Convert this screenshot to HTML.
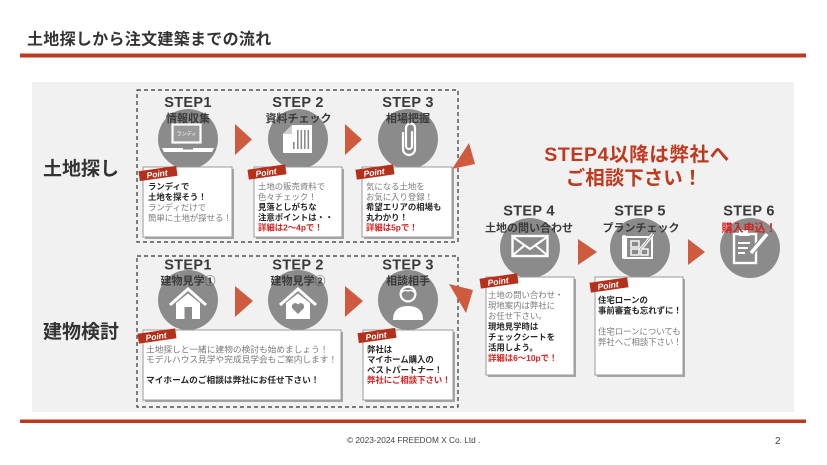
<!DOCTYPE html>
<html><head><meta charset="utf-8"><style>
html,body{margin:0;padding:0;background:#fff;}
svg{display:block;}
text{font-family:"Liberation Sans","Noto Sans CJK JP",sans-serif;}
.jp{font-family:"Noto Sans CJK JP","Liberation Sans",sans-serif;}
.g{fill:#7a7a7a;}
.b{fill:#262626;font-weight:bold;}
.r{fill:#d42020;font-weight:bold;}
.st{font-weight:bold;fill:#3a3a3a;font-size:14.5px;letter-spacing:0.3px;}
.sub{font-weight:bold;fill:#3a3a3a;font-size:11px;}
</style></head><body>
<svg width="827" height="465" viewBox="0 0 827 465" xmlns="http://www.w3.org/2000/svg">
<rect width="827" height="465" fill="#fff"/>
<!-- title -->
<text x="27" y="44.5" font-size="16" font-weight="bold" fill="#333" letter-spacing="0.3">土地探しから注文建築までの流れ</text>
<rect x="20" y="53.5" width="786" height="4" fill="#bd3a1e"/>
<!-- panel -->
<rect x="32" y="82" width="762" height="330" fill="#f1f1f1"/>
<rect x="20" y="419.5" width="786" height="3.5" fill="#bd3a1e"/>
<text x="347" y="443" font-size="8.3" fill="#444">© 2023-2024 FREEDOM X Co. Ltd .</text>
<text x="775" y="444" font-size="10" fill="#444">2</text>

<!-- left labels -->
<text x="43" y="175" font-size="19" font-weight="bold" fill="#333">土地探し</text>
<text x="43" y="338" font-size="19" font-weight="bold" fill="#333">建物検討</text>

<!-- dashed boxes -->
<rect x="137" y="90" width="321" height="152" fill="none" stroke="#333" stroke-width="1.2" stroke-dasharray="4,3"/>
<rect x="137" y="256" width="321" height="151" fill="none" stroke="#333" stroke-width="1.2" stroke-dasharray="4,3"/>

<!-- circles -->
<g fill="#8b8b8b">
<circle cx="188" cy="139" r="30"/><circle cx="298" cy="139" r="30"/><circle cx="408" cy="139" r="30"/>
<circle cx="530" cy="248" r="30"/><circle cx="640" cy="248" r="30"/><circle cx="750" cy="248" r="30"/>
<circle cx="188" cy="300" r="30"/><circle cx="298" cy="300" r="30"/><circle cx="408" cy="300" r="30"/>
</g>

<!-- triangles -->
<g fill="#cf5a3e">
<polygon points="235,124 252,139.5 235,155"/>
<polygon points="345,124 362,139.5 345,155"/>
<polygon points="235,286 253,301 235,317"/>
<polygon points="345,286 363,301 345,317"/>
<polygon points="578,239 597,252 578,265"/>
<polygon points="688,239 705,252 688,265"/>
<polygon points="469,143 452,169 475,164"/>
<polygon points="449,284 473,290 466,313"/>
</g>

<!-- icons -->
<!-- laptop -->
<rect x="172.5" y="124.5" width="28" height="18" fill="#9a9a9a" stroke="#fff" stroke-width="2.2"/>
<text x="186.5" y="135.5" font-size="5" fill="#fff" text-anchor="middle">ランディ</text>
<polygon points="162,148 214,148 212,152 164,152" fill="#fff"/>
<rect x="183" y="148" width="10" height="1.5" fill="#8b8b8b"/>
<!-- document -->
<polygon points="292,125 312,125 312,153 283,153 283,134" fill="#fff"/>
<polygon points="283,134 292,125 292,134" fill="#cfcfcf"/>
<g fill="#8b8b8b">
<rect x="297" y="130" width="1.6" height="19"/><rect x="300.5" y="130" width="1.6" height="19"/>
<rect x="304" y="130" width="1.6" height="19"/><rect x="307.5" y="130" width="1.6" height="19"/>
<rect x="293" y="142" width="1.6" height="7"/>
</g>
<!-- paperclip -->
<path d="M403 133 L403 149 A6 6 0 0 0 415 149 L415 128 A4.5 4.5 0 0 0 406 128 L406 146 A3 3 0 0 0 412 146 L412 132" fill="none" stroke="#fff" stroke-width="2.2" stroke-linecap="round"/>
<!-- envelope -->
<rect x="512.5" y="236" width="35" height="20" fill="none" stroke="#fff" stroke-width="2.4"/>
<polyline points="513,237 530,249 547,237" fill="none" stroke="#fff" stroke-width="2.2"/>
<line x1="513" y1="255" x2="525" y2="245" stroke="#fff" stroke-width="2"/>
<line x1="547" y1="255" x2="535" y2="245" stroke="#fff" stroke-width="2"/>
<!-- blueprint -->
<rect x="626" y="237" width="26" height="21" fill="none" stroke="#fff" stroke-width="2"/>
<rect x="622" y="235" width="4" height="24" rx="2" fill="#fff"/>
<g fill="none" stroke="#fff" stroke-width="1.4">
<rect x="631" y="241" width="8" height="6"/><rect x="631" y="249" width="8" height="6"/><rect x="641" y="249" width="7" height="6"/>
</g>
<line x1="640" y1="250" x2="653" y2="234" stroke="#fff" stroke-width="3.2"/>
<line x1="640" y1="250" x2="653" y2="234" stroke="#8b8b8b" stroke-width="0.8"/>
<!-- clipboard -->
<rect x="734" y="234" width="22" height="29" fill="none" stroke="#fff" stroke-width="2.4"/>
<rect x="739" y="230" width="11" height="6" fill="#fff"/>
<g stroke="#fff" stroke-width="2"><line x1="738" y1="243" x2="750" y2="243"/><line x1="738" y1="248" x2="748" y2="248"/><line x1="738" y1="253" x2="745" y2="253"/></g>
<line x1="751" y1="253" x2="767" y2="234" stroke="#8b8b8b" stroke-width="6"/>
<line x1="751" y1="253" x2="767" y2="234" stroke="#fff" stroke-width="3.6"/>
<!-- house 1 -->
<polyline points="170,305 188,289 206,305" fill="none" stroke="#fff" stroke-width="3"/>
<polygon points="176,303 188,293.5 200,303 200,319 176,319" fill="#fff"/>
<rect x="184.5" y="307" width="7.5" height="12" fill="#8b8b8b"/>
<!-- house 2 -->
<polyline points="280,305 298,289 316,305" fill="none" stroke="#fff" stroke-width="3"/>
<polygon points="286,303 298,293.5 310,303 310,319 286,319" fill="#fff"/>
<path d="M298 314 L292.5 308.5 A3 3 0 0 1 298 304.5 A3 3 0 0 1 303.5 308.5 Z" fill="#8b8b8b"/>
<!-- person -->
<path d="M393 320 Q393 306 408 306 Q423 306 423 320 Z" fill="#fff"/>
<circle cx="408" cy="294" r="8.5" fill="#fff"/>
<circle cx="408" cy="294" r="6.3" fill="#8b8b8b"/>
<path d="M401.5 293 Q404 289 408 291 Q412 289 414.5 293" fill="none" stroke="#fff" stroke-width="1.4"/>

<!-- STEP labels -->
<g text-anchor="middle">
<text class="st" x="188" y="107">STEP1</text>
<text class="st" x="298" y="107">STEP 2</text>
<text class="st" x="408" y="107">STEP 3</text>
<text class="sub" x="188" y="122">情報収集</text>
<text class="sub" x="298.5" y="122">資料チェック</text>
<text class="sub" x="408" y="122">相場把握</text>

<text class="st" x="529" y="215.5">STEP 4</text>
<text class="st" x="640" y="215.5">STEP 5</text>
<text class="st" x="749" y="215.5">STEP 6</text>
<text class="sub" x="529" y="231.5" font-size="11.5">土地の問い合わせ</text>
<text class="sub" x="641" y="231.5">プランチェック</text>
<text class="sub" x="749" y="231.5" fill="#d42020" style="fill:#d42020">購入申込！</text>

<text class="st" x="188" y="269.5">STEP1</text>
<text class="st" x="298" y="269.5">STEP 2</text>
<text class="st" x="408" y="269.5">STEP 3</text>
<text class="sub" x="188" y="284.5">建物見学①</text>
<text class="sub" x="298" y="284.5">建物見学②</text>
<text class="sub" x="408" y="284.5">相談相手</text>

<text x="637" y="161" font-size="19.5" font-weight="bold" fill="#c0391f" letter-spacing="0.6">STEP4以降は弊社へ</text>
<text x="634" y="184.5" font-size="19.5" font-weight="bold" fill="#c0391f">ご相談下さい！</text>
</g>

<!-- point boxes -->
<g>
<rect x="145" y="169" width="89" height="70" fill="#a5a5a5"/>
<rect x="143" y="167" width="89" height="70" fill="#fff" stroke="#9a9a9a" stroke-width="1"/>
<rect x="256" y="169" width="88" height="70" fill="#a5a5a5"/>
<rect x="254" y="167" width="88" height="70" fill="#fff" stroke="#9a9a9a" stroke-width="1"/>
<rect x="364" y="169" width="90" height="70" fill="#a5a5a5"/>
<rect x="362" y="167" width="90" height="70" fill="#fff" stroke="#9a9a9a" stroke-width="1"/>

<rect x="488" y="279" width="88" height="98" fill="#a5a5a5"/>
<rect x="486" y="277" width="88" height="98" fill="#fff" stroke="#9a9a9a" stroke-width="1"/>
<rect x="597" y="279" width="88" height="98" fill="#a5a5a5"/>
<rect x="595" y="277" width="88" height="98" fill="#fff" stroke="#9a9a9a" stroke-width="1"/>

<rect x="145" y="332" width="198" height="70" fill="#a5a5a5"/>
<rect x="143" y="330" width="198" height="70" fill="#fff" stroke="#9a9a9a" stroke-width="1"/>
<rect x="365" y="332" width="90" height="70" fill="#a5a5a5"/>
<rect x="363" y="330" width="90" height="70" fill="#fff" stroke="#9a9a9a" stroke-width="1"/>
</g>

<!-- Point tags -->
<g font-size="8.5" font-weight="bold" font-style="italic" fill="#fff" text-anchor="middle">
<g transform="translate(158,173.5) rotate(-8)"><rect x="-19" y="-5" width="38" height="10" fill="#b5301a"/><text x="-1" y="3.3">Point</text></g>
<g transform="translate(267,172) rotate(-8)"><rect x="-19" y="-5" width="38" height="10" fill="#b5301a"/><text x="-1" y="3.3">Point</text></g>
<g transform="translate(375,172) rotate(-8)"><rect x="-19" y="-5" width="38" height="10" fill="#b5301a"/><text x="-1" y="3.3">Point</text></g>
<g transform="translate(499,281) rotate(-8)"><rect x="-19" y="-5" width="38" height="10" fill="#b5301a"/><text x="-1" y="3.3">Point</text></g>
<g transform="translate(609,285) rotate(-8)"><rect x="-19" y="-5" width="38" height="10" fill="#b5301a"/><text x="-1" y="3.3">Point</text></g>
<g transform="translate(157,336) rotate(-8)"><rect x="-19" y="-5" width="38" height="10" fill="#b5301a"/><text x="-1" y="3.3">Point</text></g>
<g transform="translate(377,335.5) rotate(-8)"><rect x="-19" y="-5" width="38" height="10" fill="#b5301a"/><text x="-1" y="3.3">Point</text></g>
</g>

<!-- box texts -->
<g font-size="8.4">
<text x="148" y="189.5" class="b">ランディで</text>
<text x="148" y="200" class="b">土地を探そう！</text>
<text x="148" y="210.5" class="g">ランディだけで</text>
<text x="148" y="221" class="g">簡単に土地が探せる！</text>

<text x="258" y="189.5" class="g">土地の販売資料で</text>
<text x="258" y="199.8" class="g">色々チェック！</text>
<text x="258" y="210.1" class="b">見落としがちな</text>
<text x="258" y="220.4" class="b">注意ポイントは・・</text>
<text x="258" y="230.7" class="r">詳細は2〜4pで！</text>

<text x="366" y="189.5" class="g">気になる土地を</text>
<text x="366" y="199.8" class="g">お気に入り登録！</text>
<text x="366" y="210.1" class="b">希望エリアの相場も</text>
<text x="366" y="220.4" class="b">丸わかり！</text>
<text x="366" y="230.7" class="r">詳細は5pで！</text>

<text x="488" y="298" class="g">土地の問い合わせ・</text>
<text x="488" y="308.5" class="g">現地案内は弊社に</text>
<text x="488" y="319" class="g">お任せ下さい。</text>
<text x="488" y="329.5" class="b">現地見学時は</text>
<text x="488" y="340" class="b">チェックシートを</text>
<text x="488" y="350.5" class="b">活用しよう。</text>
<text x="488" y="361" class="r">詳細は6〜10pで！</text>

<text x="598" y="303" class="b">住宅ローンの</text>
<text x="598" y="313.5" class="b">事前審査も忘れずに！</text>
<text x="598" y="334.5" class="g">住宅ローンについても</text>
<text x="598" y="345" class="g">弊社へご相談下さい！</text>

<text x="367" y="352.3" class="b">弊社は</text>
<text x="367" y="362.6" class="b">マイホーム購入の</text>
<text x="367" y="372.9" class="b">ベストパートナー！</text>
<text x="367" y="383.2" class="r">弊社にご相談下さい！</text>
</g>
<g font-size="8.7">
<text x="146" y="352.3" class="g">土地探しと一緒に建物の検討も始めましょう！</text>
<text x="146" y="362.6" class="g">モデルハウス見学や完成見学会もご案内します！</text>
<text x="146" y="383.2" class="b">マイホームのご相談は弊社にお任せ下さい！</text>
</g>
</svg>
</body></html>
